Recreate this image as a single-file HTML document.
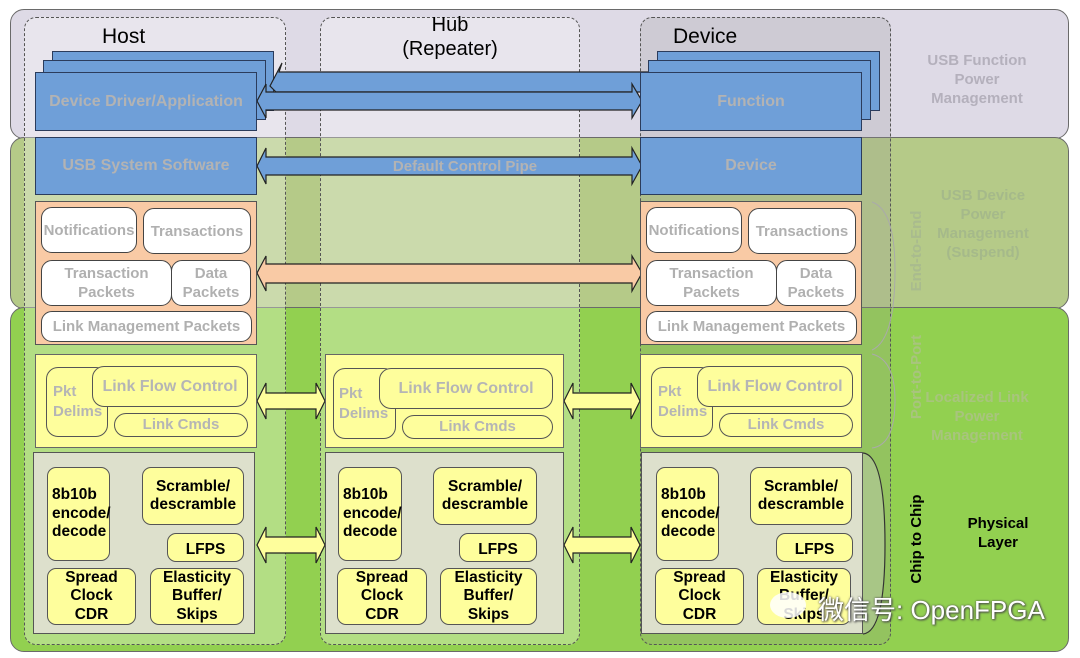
<!DOCTYPE html>
<html><head><meta charset="utf-8"><style>
*{margin:0;padding:0;box-sizing:border-box}
body{width:1080px;height:658px;background:#fff;position:relative;overflow:hidden;font-family:"Liberation Sans",Arial,sans-serif}
.a{position:absolute}
.band{position:absolute;border:1.5px solid #6a6a6a;border-radius:14px}
.col{position:absolute;border:1.2px dashed #555;border-radius:12px}
.blue{position:absolute;background:#6f9fd8;border:1.5px solid #2b3c5c}
.bt{display:flex;align-items:center;justify-content:center;color:#b3b3b3;font-weight:bold;font-size:16px;text-align:center}
.w{position:absolute;background:#fff;border:1.3px solid #444;border-radius:11px;display:flex;align-items:center;justify-content:center;text-align:center;color:#b0b0b0;font-weight:bold;font-size:15px;line-height:19px;white-space:nowrap}
.y{position:absolute;background:#fefe9c;border:1.3px solid #555;border-radius:12px;display:flex;align-items:center;justify-content:center;text-align:center;color:#b5b5b5;font-weight:bold;font-size:15px;line-height:20px;white-space:nowrap}
.p{position:absolute;background:#fefe9c;border:1.3px solid #555;border-radius:9px;display:flex;align-items:center;justify-content:center;text-align:center;color:#000;font-weight:bold;font-size:15.5px;line-height:18.5px;white-space:nowrap}
.ybox{position:absolute;background:#fefe9c;border:1.5px solid #666}
.gbox{position:absolute;background:#dde0cc;border:1.5px solid #555}
.obox{position:absolute;background:#f9caa5;border:1.5px solid #555}
.lbl{position:absolute;text-align:center;font-weight:bold;font-size:15px;line-height:19px}
.rot{position:absolute;transform:rotate(-90deg);transform-origin:center;white-space:nowrap;font-weight:bold;font-size:15px;text-align:center}
</style></head><body>

<div class="band" style="left:10px;top:9px;width:1059px;height:130px;background:#dedae6"></div>
<div class="band" style="left:10px;top:137px;width:1059px;height:172px;background:#b5ca88"></div>
<div class="band" style="left:10px;top:307px;width:1059px;height:345px;background:#92d050"></div>

<div class="col" style="left:24px;top:17px;width:262px;height:628px;background:rgba(255,255,255,0.3)"></div>
<div class="col" style="left:320px;top:17px;width:260px;height:628px;background:rgba(255,255,255,0.3)"></div>
<div class="col" style="left:640px;top:17px;width:251px;height:628px;background:rgba(150,150,150,0.22)"></div>

<div class="a" style="left:102px;top:25px;font-size:21px">Host</div>
<div class="a" style="left:380px;top:13px;width:140px;text-align:center;font-size:20px;line-height:24px">Hub<br>(Repeater)</div>
<div class="a" style="left:673px;top:25px;font-size:21px">Device</div>

<!-- Host stack back -->
<div class="blue" style="left:52px;top:51px;width:222px;height:60px"></div>
<div class="blue" style="left:43px;top:60px;width:223px;height:60px"></div>

<svg class="a" style="left:0;top:0" width="1080" height="658">
<g stroke="#222" stroke-width="1.2">
<polygon fill="#6f9fd8" points="282,63 270,86 276,92 650,92 650,72 279,72"/>
<polygon fill="#6f9fd8" points="266,92 266,84 257,101 266,118 266,110 632,110 632,118 642,101 632,84 632,92"/>
<polygon fill="#6f9fd8" points="266,157 266,148 257,166 266,184 266,175 632,175 632,184 642,166 632,148 632,157"/>
<polygon fill="#f9caa5" points="266,264 266,256 257,273 266,291 266,283 632,283 632,291 642,273 632,256 632,264"/>
<polygon fill="#fefe9c" points="266,393 266,383 257,401 266,419 266,409 316,409 316,419 325,401 316,383 316,393"/>
<polygon fill="#fefe9c" points="266,537 266,527 257,545 266,563 266,553 316,553 316,563 325,545 316,527 316,537"/>
<polygon fill="#fefe9c" points="573,393 573,383 564,401 573,419 573,409 631,409 631,419 640,401 631,383 631,393"/>
<polygon fill="#fefe9c" points="573,537 573,527 564,545 573,563 573,553 631,553 631,563 640,545 631,527 631,537"/>
</g>
<path d="M863,453 Q885,455 885,545 Q885,632 863,634" fill="#a8c686" stroke="#333" stroke-width="1.2"/>
<path d="M872,202 Q895,210 895,270 Q895,340 872,350" fill="none" stroke="#aaa" stroke-width="1"/>
<path d="M872,354 Q895,360 895,400 Q895,445 872,448" fill="none" stroke="#aaa" stroke-width="1"/>
</svg>
<div class="a bt" style="left:370px;top:156px;width:190px;height:20px;font-size:15px">Default Control Pipe</div>

<div class="blue bt" style="left:35px;top:72px;width:222px;height:59px">Device Driver/Application</div>
<div class="blue bt" style="left:35px;top:137px;width:222px;height:58px">USB System Software</div>
<div class="blue" style="left:657px;top:51px;width:223px;height:60px"></div>
<div class="blue" style="left:648px;top:60px;width:223px;height:60px"></div>
<div class="blue bt" style="left:640px;top:72px;width:222px;height:59px">Function</div>
<div class="blue bt" style="left:640px;top:137px;width:222px;height:58px">Device</div>

<div class="obox" style="left:35px;top:201px;width:222px;height:144px"></div>
<div class="w" style="left:41px;top:207px;width:96px;height:46px">Notifications</div>
<div class="w" style="left:143px;top:208px;width:108px;height:46px">Transactions</div>
<div class="w" style="left:41px;top:260px;width:131px;height:46px">Transaction<br>Packets</div>
<div class="w" style="left:171px;top:260px;width:80px;height:46px">Data<br>Packets</div>
<div class="w" style="left:41px;top:311px;width:211px;height:31px">Link Management Packets</div>

<div class="obox" style="left:640px;top:201px;width:222px;height:144px"></div>
<div class="w" style="left:646px;top:207px;width:96px;height:46px">Notifications</div>
<div class="w" style="left:748px;top:208px;width:108px;height:46px">Transactions</div>
<div class="w" style="left:646px;top:260px;width:131px;height:46px">Transaction<br>Packets</div>
<div class="w" style="left:776px;top:260px;width:80px;height:46px">Data<br>Packets</div>
<div class="w" style="left:646px;top:311px;width:211px;height:31px">Link Management Packets</div>

<div class="ybox" style="left:35px;top:354px;width:222px;height:94px"></div>
<div class="y" style="left:46px;top:367px;width:62px;height:70px;justify-content:flex-start;padding-left:6px;text-align:left">Pkt<br>Delims</div>
<div class="y" style="left:92px;top:366px;width:156px;height:41px;font-size:16px">Link Flow Control</div>
<div class="y" style="left:114px;top:413px;width:134px;height:24px">Link Cmds</div>

<div class="ybox" style="left:325px;top:354px;width:239px;height:94px"></div>
<div class="y" style="left:333px;top:368px;width:63px;height:71px;justify-content:flex-start;padding-left:5px;text-align:left">Pkt<br>Delims</div>
<div class="y" style="left:379px;top:368px;width:174px;height:41px;font-size:16px">Link Flow Control</div>
<div class="y" style="left:402px;top:415px;width:151px;height:24px">Link Cmds</div>

<div class="ybox" style="left:640px;top:354px;width:222px;height:94px"></div>
<div class="y" style="left:651px;top:367px;width:62px;height:70px;justify-content:flex-start;padding-left:6px;text-align:left">Pkt<br>Delims</div>
<div class="y" style="left:697px;top:366px;width:156px;height:41px;font-size:16px">Link Flow Control</div>
<div class="y" style="left:719px;top:413px;width:134px;height:24px">Link Cmds</div>

<div class="gbox" style="left:33px;top:452px;width:222px;height:182px"></div>
<div class="p" style="left:47px;top:467px;width:63px;height:94px;justify-content:flex-start;padding-left:4px;text-align:left">8b10b<br>encode/<br>decode</div>
<div class="p" style="left:142px;top:467px;width:102px;height:58px">Scramble/<br>descramble</div>
<div class="p" style="left:167px;top:533px;width:77px;height:29px;padding-top:5px">LFPS</div>
<div class="p" style="left:47px;top:568px;width:89px;height:57px">Spread<br>Clock<br>CDR</div>
<div class="p" style="left:150px;top:568px;width:94px;height:57px">Elasticity<br>Buffer/<br>Skips</div>

<div class="gbox" style="left:325px;top:452px;width:239px;height:182px"></div>
<div class="p" style="left:338px;top:467px;width:64px;height:94px;justify-content:flex-start;padding-left:4px;text-align:left">8b10b<br>encode/<br>decode</div>
<div class="p" style="left:433px;top:467px;width:104px;height:58px">Scramble/<br>descramble</div>
<div class="p" style="left:459px;top:533px;width:78px;height:29px;padding-top:5px">LFPS</div>
<div class="p" style="left:337px;top:568px;width:90px;height:57px">Spread<br>Clock<br>CDR</div>
<div class="p" style="left:440px;top:568px;width:97px;height:57px">Elasticity<br>Buffer/<br>Skips</div>

<div class="gbox" style="left:641px;top:452px;width:222px;height:182px"></div>
<div class="p" style="left:656px;top:467px;width:63px;height:94px;justify-content:flex-start;padding-left:4px;text-align:left">8b10b<br>encode/<br>decode</div>
<div class="p" style="left:750px;top:467px;width:102px;height:58px">Scramble/<br>descramble</div>
<div class="p" style="left:776px;top:533px;width:77px;height:29px;padding-top:5px">LFPS</div>
<div class="p" style="left:655px;top:568px;width:89px;height:57px">Spread<br>Clock<br>CDR</div>
<div class="p" style="left:757px;top:568px;width:94px;height:57px">Elasticity<br>Buffer/<br>Skips</div>

<div class="lbl" style="left:907px;top:51px;width:140px;color:#b4b0bc">USB Function<br>Power<br>Management</div>
<div class="lbl" style="left:913px;top:186px;width:140px;color:#a5b98a">USB Device<br>Power<br>Management<br>(Suspend)</div>
<div class="lbl" style="left:907px;top:388px;width:140px;color:#a8c47e">Localized Link<br>Power<br>Management</div>
<div class="rot" style="left:868px;top:241px;width:100px;height:20px;color:#a9bb8e">End-to-End</div>
<div class="rot" style="left:868px;top:367px;width:100px;height:20px;color:#a8c47e">Port-to-Port</div>
<div class="rot" style="left:868px;top:529px;width:100px;height:20px;color:#000">Chip to Chip</div>
<div class="lbl" style="left:948px;top:514px;width:100px;color:#000">Physical<br>Layer</div>

<div class="a" style="left:770px;top:592px;width:36px;height:26px;border-radius:50%;background:#fff;opacity:.85"></div>
<div class="a" style="left:818px;top:590px;font-size:26px;color:#fff;text-shadow:0 0 2px #555,1px 1px 2px #444;font-family:'Liberation Sans','Noto Sans CJK SC',sans-serif">微信号: OpenFPGA</div>
</body></html>
